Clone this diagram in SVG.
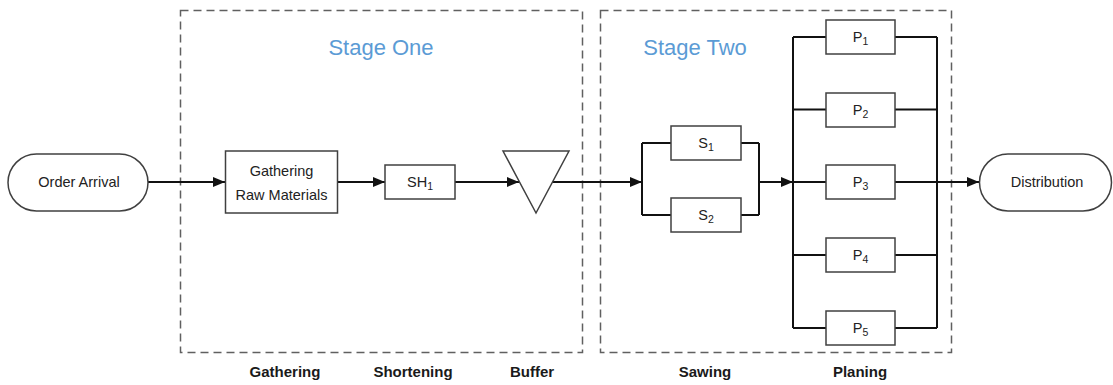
<svg xmlns="http://www.w3.org/2000/svg" width="1113" height="385" viewBox="0 0 1113 385">
<style>
  .stage { fill: none; stroke: #606060; stroke-width: 1.5; stroke-dasharray: 8 5; }
  .title { font-family: "Liberation Sans", Arial, sans-serif; font-size: 22px; fill: #5B9BD5; text-anchor: middle; }
  .box { fill: #ffffff; stroke: #404040; stroke-width: 1.5; }
  .lbl { font-family: "Liberation Sans", Arial, sans-serif; font-size: 14.5px; fill: #222222; text-anchor: middle; }
  .sub { font-size: 10.5px; }
  .cap { font-family: "Liberation Sans", Arial, sans-serif; font-size: 15px; font-weight: bold; fill: #1a1a1a; text-anchor: middle; }
  .wire { fill: none; stroke: #111111; stroke-width: 2; }
</style>
<defs>
  <marker id="arr" markerUnits="userSpaceOnUse" markerWidth="13" markerHeight="12" refX="12" refY="5" orient="auto">
    <path d="M0,0 L12,5 L0,10 z" fill="#111111"/>
  </marker>
</defs>
<rect fill="#ffffff" x="0" y="0" width="1113" height="385"/>

<g id="stage-one">
  <rect class="stage" x="180.5" y="10.5" width="402" height="342"/>
  <text class="title" x="381" y="55">Stage One</text>
</g>
<g id="stage-two">
  <rect class="stage" x="600.5" y="10.5" width="351" height="342"/>
  <text class="title" x="695" y="55">Stage Two</text>
</g>

<g id="connectors">
  <line class="wire" x1="148" y1="182" x2="225" y2="182" marker-end="url(#arr)"/>
  <line class="wire" x1="338" y1="182" x2="385" y2="182" marker-end="url(#arr)"/>
  <line class="wire" x1="455" y1="182" x2="519" y2="182" marker-end="url(#arr)"/>
  <line class="wire" x1="552" y1="182" x2="642" y2="182" marker-end="url(#arr)"/>
  <path class="wire" d="M642,143 V215 M642,143 H671 M741,143 H759 M642,215 H671 M741,215 H759 M759,143 V215"/>
  <line class="wire" x1="759" y1="182" x2="793" y2="182" marker-end="url(#arr)"/>
  <path class="wire" d="M793,37 V328 M937,37 V328 M793,37 H826 M895,37 H937 M793,109.5 H826 M895,109.5 H937 M793,182 H826 M895,182 H937 M793,255 H826 M895,255 H937 M793,328 H826 M895,328 H937"/>
  <line class="wire" x1="937" y1="182" x2="979" y2="182" marker-end="url(#arr)"/>
</g>

<g id="order-arrival">
  <rect class="box" x="8" y="154" width="140" height="57" rx="28.5"/>
  <text class="lbl" x="79" y="187">Order Arrival</text>
</g>
<g id="gathering">
  <rect class="box" x="225.5" y="151" width="112" height="62"/>
  <text class="lbl" x="281.5" y="176">Gathering</text>
  <text class="lbl" x="281.5" y="200">Raw Materials</text>
</g>
<g id="sh1">
  <rect class="box" x="385" y="165" width="70" height="34"/>
  <text class="lbl" x="420" y="187">SH<tspan class="sub" dy="3">1</tspan></text>
</g>
<g id="buffer">
  <polygon class="box" points="503,151 569,151 536,213"/>
</g>
<g id="s1">
  <rect class="box" x="671" y="126" width="70" height="34"/>
  <text class="lbl" x="706" y="148">S<tspan class="sub" dy="3">1</tspan></text>
</g>
<g id="s2">
  <rect class="box" x="671" y="198" width="70" height="34"/>
  <text class="lbl" x="706" y="220">S<tspan class="sub" dy="3">2</tspan></text>
</g>
<g id="p1">
  <rect class="box" x="826" y="20" width="69" height="34"/>
  <text class="lbl" x="860.5" y="42">P<tspan class="sub" dy="3">1</tspan></text>
</g>
<g id="p2">
  <rect class="box" x="826" y="93" width="69" height="34"/>
  <text class="lbl" x="860.5" y="115">P<tspan class="sub" dy="3">2</tspan></text>
</g>
<g id="p3">
  <rect class="box" x="826" y="165" width="69" height="34"/>
  <text class="lbl" x="860.5" y="187">P<tspan class="sub" dy="3">3</tspan></text>
</g>
<g id="p4">
  <rect class="box" x="826" y="238" width="69" height="34"/>
  <text class="lbl" x="860.5" y="260">P<tspan class="sub" dy="3">4</tspan></text>
</g>
<g id="p5">
  <rect class="box" x="826" y="311" width="69" height="34"/>
  <text class="lbl" x="860.5" y="333">P<tspan class="sub" dy="3">5</tspan></text>
</g>
<g id="distribution">
  <rect class="box" x="979.5" y="154" width="132" height="57" rx="28.5"/>
  <text class="lbl" x="1047" y="187">Distribution</text>
</g>

<g id="captions">
  <text class="cap" x="285" y="377">Gathering</text>
  <text class="cap" x="413" y="377">Shortening</text>
  <text class="cap" x="532" y="377">Buffer</text>
  <text class="cap" x="705" y="377">Sawing</text>
  <text class="cap" x="860" y="377">Planing</text>
</g>
</svg>
